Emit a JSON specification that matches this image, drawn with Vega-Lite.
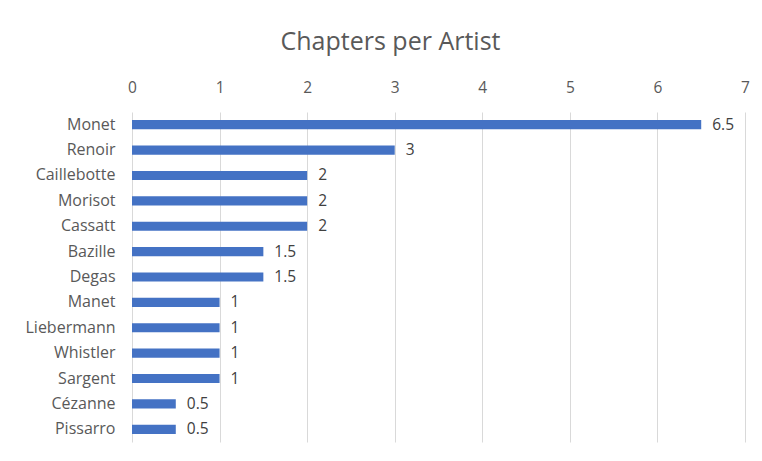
{
  "$schema": "https://vega.github.io/schema/vega-lite/v6.json",
  "autosize": "none",
  "width": 613,
  "height": 330,
  "padding": {"left": 132, "top": 112, "right": 17, "bottom": 19},
  "background": "white",
  "config": {
    "view": {"stroke": null},
    "font": "Open Sans"
  },
  "title": {
    "text": "Chapters per Artist",
    "fontSize": 25,
    "font": "Open Sans",
    "fontWeight": "normal",
    "color": "#595959",
    "anchor": "middle",
    "dx": -48,
    "offset": 25
  },
  "data": {
    "values": [
      {"artist": "Monet", "chapters": 6.5},
      {"artist": "Renoir", "chapters": 3},
      {"artist": "Caillebotte", "chapters": 2},
      {"artist": "Morisot", "chapters": 2},
      {"artist": "Cassatt", "chapters": 2},
      {"artist": "Bazille", "chapters": 1.5},
      {"artist": "Degas", "chapters": 1.5},
      {"artist": "Manet", "chapters": 1},
      {"artist": "Liebermann", "chapters": 1},
      {"artist": "Whistler", "chapters": 1},
      {"artist": "Sargent", "chapters": 1},
      {"artist": "Cézanne", "chapters": 0.5},
      {"artist": "Pissarro", "chapters": 0.5}
    ]
  },
  "encoding": {
    "y": {
      "field": "artist",
      "type": "nominal",
      "sort": null,
      "scale": {"paddingInner": 0.64, "paddingOuter": 0.32},
      "axis": {
        "title": null,
        "domain": false,
        "ticks": false,
        "labelFontSize": 16,
        "labelColor": "#595959",
        "labelPadding": 17,
        "labelFont": "Open Sans",
        "labelOverlap": false
      }
    },
    "x": {
      "field": "chapters",
      "type": "quantitative",
      "scale": {"domain": [0, 7], "nice": false},
      "axis": {
        "orient": "top",
        "title": null,
        "domain": false,
        "ticks": false,
        "values": [0, 1, 2, 3, 4, 5, 6, 7],
        "grid": true,
        "gridColor": "#d9d9d9",
        "gridWidth": 1,
        "labelFontSize": 15.5,
        "labelColor": "#595959",
        "labelPadding": 17,
        "labelFont": "Open Sans",
        "labelFlush": false,
        "labelOverlap": false
      }
    }
  },
  "layer": [
    {"mark": {"type": "bar", "color": "#4472C4"}},
    {
      "mark": {"type": "text", "align": "left", "baseline": "middle", "dx": 11, "fontSize": 15.5, "color": "#404040", "font": "Open Sans"},
      "encoding": {"text": {"field": "chapters", "type": "quantitative"}}
    }
  ]
}
